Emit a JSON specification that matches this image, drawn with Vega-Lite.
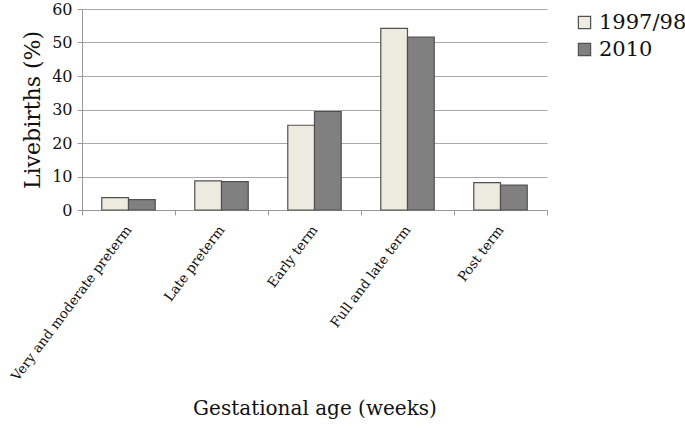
{
  "$schema": "https://vega.github.io/schema/vega-lite/v6.json",
  "autosize": "none",
  "width": 465,
  "height": 201,
  "padding": {"left": 82, "top": 9, "right": 138, "bottom": 219},
  "background": "white",
  "config": {
    "view": {"stroke": null},
    "font": "DejaVu Serif",
    "axis": {"labelFont": "DejaVu Serif", "titleFont": "DejaVu Serif", "labelColor": "#111", "titleColor": "#111", "domainColor": "#999", "tickColor": "#999", "gridColor": "#A8A8A8", "titleFontWeight": "normal"}
  },
  "data": {
    "values": [
      {"age": "Very and moderate preterm", "period": "1997/98", "pct": 3.7},
      {"age": "Very and moderate preterm", "period": "2010", "pct": 3.1},
      {"age": "Late preterm", "period": "1997/98", "pct": 8.7},
      {"age": "Late preterm", "period": "2010", "pct": 8.5},
      {"age": "Early term", "period": "1997/98", "pct": 25.3},
      {"age": "Early term", "period": "2010", "pct": 29.4},
      {"age": "Full and late term", "period": "1997/98", "pct": 54.2},
      {"age": "Full and late term", "period": "2010", "pct": 51.6},
      {"age": "Post term", "period": "1997/98", "pct": 8.2},
      {"age": "Post term", "period": "2010", "pct": 7.4}
    ]
  },
  "mark": {"type": "bar", "stroke": "#505050", "strokeWidth": 1.2},
  "encoding": {
    "x": {
      "field": "age", "type": "nominal", "sort": null,
      "scale": {"paddingInner": 0, "paddingOuter": 0},
      "axis": {"title": "Gestational age (weeks)", "titleFontSize": 20, "titlePadding": 16, "labelAngle": -53, "labelFontSize": 13.5, "labelPadding": 12, "labelLimit": 0, "tickBand": "extent", "tickSize": 5, "grid": false}
    },
    "xOffset": {"field": "period", "type": "nominal", "scale": {"paddingInner": 0, "paddingOuter": 0.74}},
    "y": {
      "field": "pct", "type": "quantitative",
      "scale": {"domain": [0, 60], "nice": false},
      "axis": {"title": "Livebirths (%)", "titleFontSize": 22, "titlePadding": 7, "labelFontSize": 16, "values": [0, 10, 20, 30, 40, 50, 60], "tickSize": 5, "labelPadding": 5, "grid": true}
    },
    "fill": {
      "field": "period", "type": "nominal",
      "scale": {"domain": ["1997/98", "2010"], "range": ["#EDEBE0", "#808080"]},
      "legend": {"title": null, "orient": "none", "legendX": 492, "legendY": 3, "symbolType": "square", "symbolSize": 150, "symbolStrokeColor": "#505050", "symbolStrokeWidth": 1.2, "labelFont": "DejaVu Serif", "labelFontSize": 21, "labelColor": "#111", "rowPadding": 5, "labelOffset": 4}
    }
  }
}
